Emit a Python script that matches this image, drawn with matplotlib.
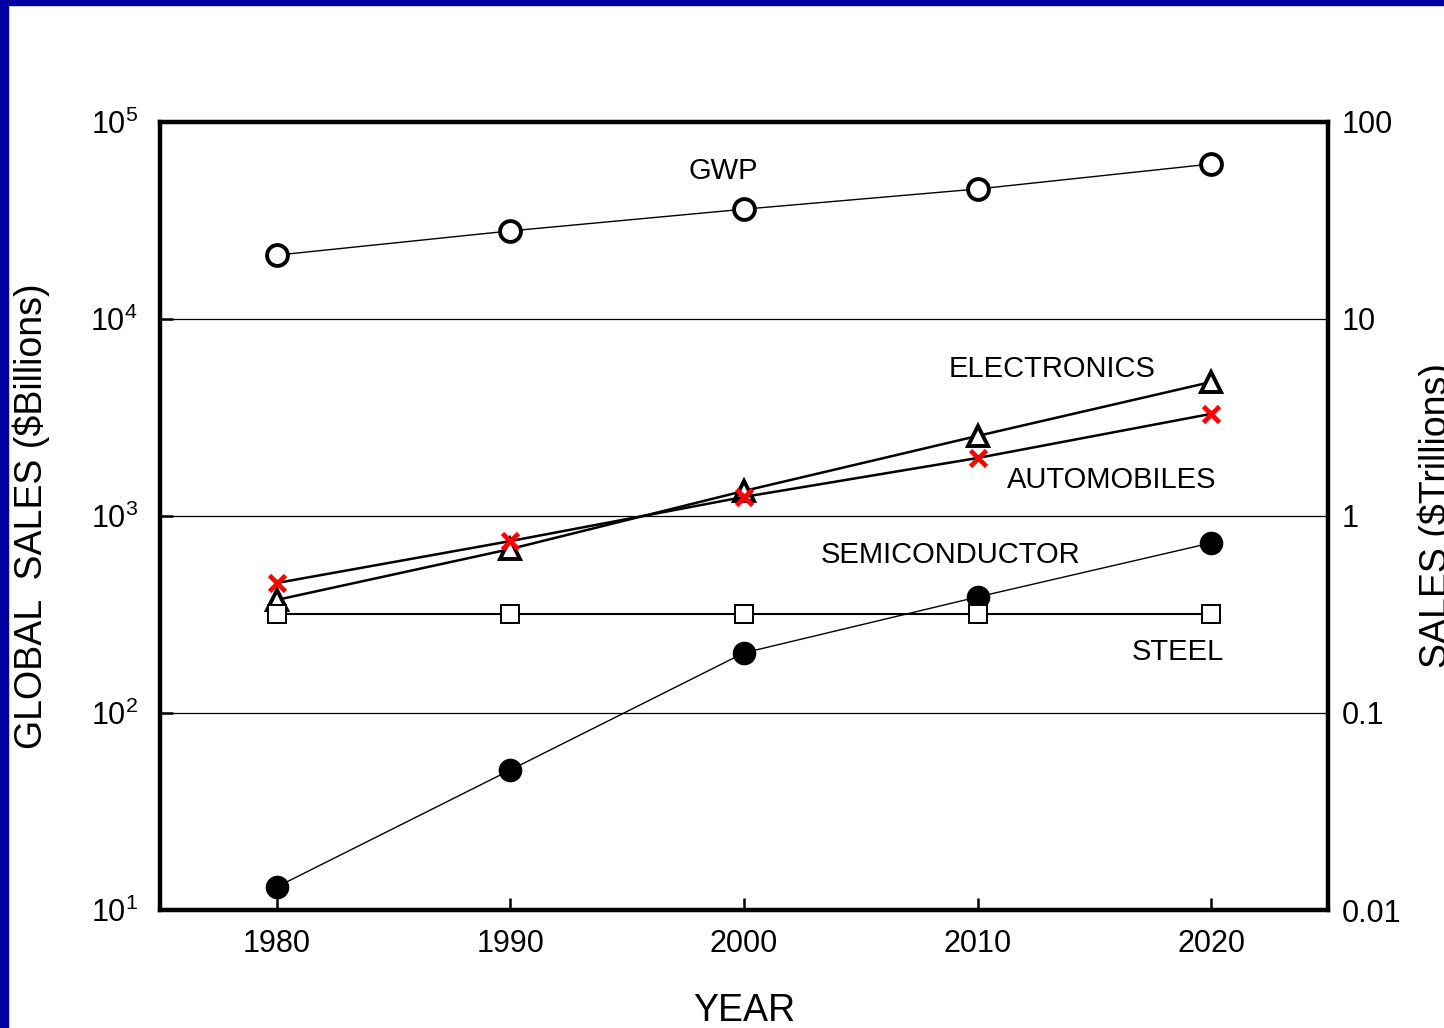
import matplotlib
matplotlib.use("Agg")
import matplotlib.pyplot as plt
from matplotlib.patches import Rectangle

plt.rcParams['font.family'] = ['Liberation Sans', 'DejaVu Sans']
plt.rcParams['mathtext.default'] = 'regular'

years = [1980, 1990, 2000, 2010, 2020]
gwp = [21100, 28000, 36100, 45700, 61200]
electronics = [375, 680, 1340, 2550, 4790]
automobiles = [457, 746, 1250, 1970, 3300]
semiconductor = [13.1, 51.4, 202, 388, 730]
steel = [318, 318, 318, 318, 318]

left_ticks = [10, 100, 1000, 10000, 100000]
left_labels = ['$10^{1}$', '$10^{2}$', '$10^{3}$', '$10^{4}$', '$10^{5}$']
right_ticks = [0.01, 0.1, 1, 10, 100]
right_labels = ['0.01', '0.1', '1', '10', '100']

fig = plt.figure(figsize=(14.44, 10.28), dpi=100)
ax = fig.add_axes([160 / 1444, 1 - 910 / 1028, 1168 / 1444, 788 / 1028])

# blue frame of the slide
fig.patches.append(Rectangle((0, 0), 8 / 1444, 1, transform=fig.transFigure,
                             color='#0000a0', zorder=0))
fig.patches.append(Rectangle((0, 1 - 5 / 1028), 1, 5 / 1028, transform=fig.transFigure,
                             color='#0000a0', zorder=0))

ax.set_yscale('log')
ax.set_xlim(1975, 2025)
ax.set_ylim(10, 100000)

for y in [100, 1000, 10000]:
    ax.axhline(y, color='black', lw=0.9, zorder=1)

ax.plot(years, gwp, color='black', lw=1.0, marker='o', ms=15, mfc='white',
        mec='black', mew=2.8, zorder=3)
ax.plot(years, electronics, color='black', lw=1.8, marker='^', ms=14, mfc='white',
        mec='black', mew=2.8, zorder=3)
ax.plot(years, automobiles, color='black', lw=1.8, zorder=3)
ax.plot(years, automobiles, ls='none', marker='x', ms=12, mec='red', mew=3.4, zorder=4)
ax.plot(years, semiconductor, color='black', lw=1.0, marker='o', ms=16, mfc='black',
        mec='black', zorder=3)
ax.plot(years, steel, color='black', lw=1.5, marker='s', ms=13, mfc='white',
        mec='black', mew=1.4, zorder=3)


def ypix(p):
    return 10 ** (1 + (910 - p) / 197)


lab = dict(fontsize=21, ha='center', va='center')
ax.text(1999.1, ypix(171), 'GWP', **lab)
ax.text(2013.2, ypix(369), 'ELECTRONICS', **lab)
ax.text(2015.75, ypix(480), 'AUTOMOBILES', **lab)
ax.text(2008.85, ypix(555), 'SEMICONDUCTOR', **lab)
ax.text(2018.55, ypix(652), 'STEEL', **lab)

ax.set_xticks(years)
ax.set_xticklabels([str(y) for y in years])
ax.set_yticks(left_ticks)
ax.set_yticklabels(left_labels)
ax.yaxis.set_minor_locator(matplotlib.ticker.NullLocator())
ax.tick_params(axis='x', direction='in', length=9, width=1.8, labelsize=22, pad=14)
ax.tick_params(axis='y', direction='in', length=9, width=1.8, labelsize=22, pad=16)

for s in ax.spines.values():
    s.set_linewidth(3.2)

ax2 = ax.twinx()
ax2.set_yscale('log')
ax2.set_ylim(0.01, 100)
ax2.set_yticks(right_ticks)
ax2.set_yticklabels(right_labels)
ax2.yaxis.set_minor_locator(matplotlib.ticker.NullLocator())
ax2.tick_params(axis='y', length=0, labelsize=22, pad=10)

ax.set_xlabel('YEAR', fontsize=27, labelpad=24)
ax.set_ylabel('GLOBAL  SALES ($Billions)', fontsize=27)
ax.yaxis.set_label_coords(-0.094, 0.5)
ax2.set_ylabel('SALES ($Trillions)', fontsize=27)
ax2.yaxis.set_label_coords(1.077, 0.5)

fig.savefig('out.png', dpi=100)
